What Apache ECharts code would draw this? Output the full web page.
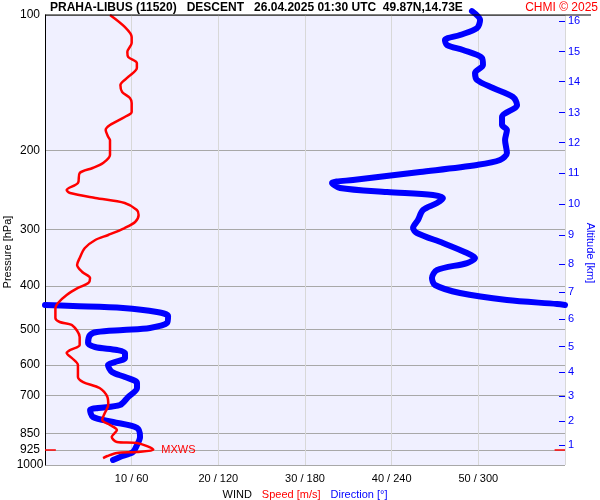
<!DOCTYPE html>
<html><head><meta charset="utf-8">
<script src="https://cdn.jsdelivr.net/npm/echarts@6/dist/echarts.min.js"></script>
<style>html,body{margin:0;padding:0;background:#fff}#c{width:600px;height:500px}</style>
</head><body><div id="c"></div>
<script>
// ---- data ----
const titleText = 'PRAHA-LIBUS (11520)   DESCENT   26.04.2025 01:30 UTC  49.87N,14.73E';
const creditText = 'CHMI \u00A9 2025';
const pressureLevels = [100, 200, 300, 400, 500, 600, 700, 850, 925, 1000];
const speedTicks = [10, 20, 30, 40, 50];
const altitudes = [1, 2, 3, 4, 5, 6, 7, 8, 9, 10, 11, 12, 13, 14, 15, 16];
const altPressures = [904.2, 799.8, 702.5, 621.4, 545.8, 474.7, 413.4, 358.1, 308.7, 263.0, 224.8, 192.2, 164.9, 140.7, 120.6, 103.0];

// wind speed [m/s] vs pressure [hPa]
const speedP = [100, 106.3, 111.9, 115.4, 120.8, 124.0, 127.9, 131.2, 137.3, 143.1, 148.3, 152.9, 156.9, 164.3, 168.5, 175.6, 180.1, 186.7, 189.6, 204.7, 213.3, 218.8, 224.5, 236.2, 244.9, 248.7, 255.1, 261.7, 271.3, 278.3, 288.4, 297.4, 308.2, 316.2, 329.5, 346.7, 359.4, 372.5, 384.1, 394.1, 404.2, 419.0, 436.5, 447.8, 471.3, 481.1, 488.6, 519.4, 541.2, 555.2, 563.8, 578.4, 599.5, 637.5, 654.1, 674.5, 706.3, 735.6, 766.3, 794.3, 814.9, 836.0, 866.5, 889.0, 893.5, 925, 935.6, 940.4, 955.0, 964.9];
const speedV = [7.5, 9.2, 10.0, 10.0, 9.5, 9.6, 10.6, 10.6, 9.6, 8.7, 8.9, 9.8, 10.0, 10.0, 9.2, 7.5, 7.0, 7.3, 7.5, 7.5, 6.7, 5.5, 4.0, 3.8, 2.5, 2.9, 5.8, 9.2, 10.6, 10.8, 10.4, 9.2, 7.3, 5.8, 4.6, 4.0, 3.7, 4.3, 5.2, 5.0, 3.8, 2.5, 1.5, 1.2, 1.2, 1.7, 3.1, 4.0, 4.0, 2.9, 2.5, 3.1, 3.8, 3.8, 4.4, 6.3, 7.2, 7.3, 6.9, 6.6, 7.5, 8.3, 7.7, 8.3, 10.6, 12.5, 10.6, 8.3, 7.2, 6.7];

// wind direction [deg] vs pressure [hPa]; null = wrap 360 -> 0
const dirP = [98.0, 102.6, 106.9, 110.8, 113.7, 116.6, 119.6, 124.6, 129.2, 134.6, 139.5, 145.3, 152.1, 158.5, 168.5, 175.6, 180.1, 189.6, 202.6, 210.0, 215.4, 223.3, 232.6, 236.2, 242.4, 247.4, 251.2, 255.1, 261.7, 271.3, 285.5, 297.4, 305.1, 321.1, 338.0, 346.7, 355.8, 368.7, 384.1, 398.1, 414.8, 429.9, 438.8, 441.0, 441.0, 441.0, 443.3, 447.8, 457.1, 466.6, 483.5, 496.1, 501.2, 506.4, 514.2, 535.7, 546.7, 555.2, 563.8, 578.4, 590.4, 599.5, 621.4, 637.5, 657.4, 674.5, 706.3, 735.6, 747.0, 754.7, 782.2, 802.5, 827.5, 866.5, 902.7, 935.6, 959.9, 974.7];
const dirV = [295.6, 301.2, 299.1, 287.3, 276.9, 278.3, 289.4, 302.5, 303.2, 297.7, 299.1, 310.2, 324.0, 326.8, 316.4, 316.4, 319.8, 318.5, 319.8, 315.0, 299.1, 259.6, 213.2, 198.7, 204.2, 236.8, 268.6, 275.5, 271.4, 261.7, 258.2, 254.8, 257.5, 275.5, 292.2, 297.7, 292.2, 271.4, 267.9, 270.0, 287.3, 319.8, 354.5, 360, null, 0, 19.4, 54.0, 77.5, 85.2, 84.5, 72.7, 54.0, 36.0, 31.2, 29.8, 34.6, 49.8, 55.4, 55.4, 48.5, 43.6, 46.4, 55.4, 63.7, 63.7, 57.5, 51.9, 36.7, 31.2, 33.2, 47.1, 63.7, 65.8, 63.7, 60.9, 51.9, 47.1];

// ---- build ----
const F = '"Liberation Sans", Arial, sans-serif';
const speedData = speedP.map((p, i) => [speedV[i], p]);
const dirData = dirP.map((p, i) => dirV[i] == null ? ['-', '-'] : [dirV[i], p]);
let mi = 0;
speedV.forEach((v, i) => { if (v > speedV[mi]) mi = i; });
const mxwsSpeed = speedV[mi], mxwsP = speedP[mi];

function nearest(arr, v) {
  let best = 0, bd = Infinity;
  arr.forEach((p, i) => { const d = Math.abs(p - v); if (d < bd) { bd = d; best = i; } });
  return best;
}

const chart = echarts.init(document.getElementById('c'), null, {renderer: 'canvas'});
chart.setOption({
  animation: false,
  textStyle: {fontFamily: F},
  grid: {left: 45, right: 35, top: 15, bottom: 35, show: true, backgroundColor: '#f0f0ff', borderWidth: 0,
         containLabel: false, outerBoundsMode: 'none'},
  xAxis: [
    {
      type: 'value', min: 0, max: 60, interval: 10,
      axisLine: {show: false}, axisTick: {show: false},
      splitLine: {show: true, lineStyle: {color: '#d8d8d8', width: 1}},
      axisLabel: {fontSize: 11, color: '#000', margin: 8, fontFamily: F,
        formatter: v => speedTicks.indexOf(v) >= 0 ? v + ' / ' + v * 6 : ''},
      name: '{a|WIND}   {b|Speed [m/s]}   {c|Direction [\u00B0]}',
      nameLocation: 'middle', nameGap: 18,
      nameTextStyle: {rich: {
        a: {color: '#000', fontSize: 11, fontFamily: F},
        b: {color: '#ff0000', fontSize: 11, fontFamily: F},
        c: {color: '#0000ff', fontSize: 11, fontFamily: F}}}
    },
    {type: 'value', min: 0, max: 360, show: false}
  ],
  yAxis: [
    {
      type: 'log', logBase: 10, min: 100, max: 1000, inverse: true,
      axisLine: {show: true, onZero: false, lineStyle: {color: '#000', width: 1}},
      axisTick: {show: false, customValues: pressureLevels},
      axisLabel: {customValues: pressureLevels, fontSize: 12, color: '#000', align: 'center', margin: 15, fontFamily: F,
        formatter: v => String(pressureLevels[nearest(pressureLevels, v)])},
      splitLine: {show: true, lineStyle: {color: '#a8a8a8', width: 1}}
    },
    {
      type: 'log', logBase: 10, min: 100, max: 1000, inverse: true, position: 'right',
      axisLine: {show: false, onZero: false},
      axisTick: {show: true, inside: true, length: 6, customValues: altPressures, lineStyle: {color: '#0000ff', width: 1}},
      axisLabel: {customValues: altPressures, color: '#0000ff', fontSize: 11, margin: 3, fontFamily: F,
        formatter: v => String(altitudes[nearest(altPressures, v)])},
      splitLine: {show: false}
    }
  ],
  graphic: [
    {type: 'line', z: 100, shape: {x1: 45, y1: 15, x2: 591, y2: 15}, style: {stroke: '#000', lineWidth: 1}},
    {type: 'text', z: 100, x: 50, y: 8, style: {text: titleText, fill: '#000', fontSize: 12, fontWeight: 'bold', fontFamily: F, align: 'left', verticalAlign: 'middle'}},
    {type: 'text', z: 100, x: 598, y: 8, style: {text: creditText, fill: '#ff0000', fontSize: 12, fontFamily: F, align: 'right', verticalAlign: 'middle'}},
    {type: 'text', z: 100, x: 8, y: 252, rotation: Math.PI / 2, style: {text: 'Pressure [hPa]', fill: '#000', fontSize: 11, fontFamily: F, align: 'center', verticalAlign: 'middle'}},
    {type: 'text', z: 100, x: 590, y: 253, rotation: -Math.PI / 2, style: {text: 'Altitude [km]', fill: '#0000ff', fontSize: 11, fontFamily: F, align: 'center', verticalAlign: 'middle'}}
  ],
  series: [
    {
      name: 'Direction', type: 'line', xAxisIndex: 1, yAxisIndex: 0, data: dirData,
      symbol: 'none', smooth: 0.3, clip: false, z: 2,
      lineStyle: {color: '#0000ff', width: 6, cap: 'round', join: 'round'}
    },
    {
      name: 'Speed', type: 'line', xAxisIndex: 0, yAxisIndex: 0, data: speedData,
      symbol: 'none', smooth: 0.3, clip: false, z: 3,
      lineStyle: {color: '#ff0000', width: 2.5},
      markLine: {
        silent: true, symbol: ['none', 'none'], animation: false,
        lineStyle: {color: '#ff0000', width: 1.5, type: 'solid'}, label: {show: false},
        data: [
          [{coord: [0, mxwsP]}, {coord: [1.25, mxwsP]}],
          [{coord: [58.8, mxwsP]}, {coord: [60, mxwsP]}]
        ]
      },
      markPoint: {
        silent: true, symbol: 'circle', symbolSize: 0, animation: false,
        label: {show: true, position: 'right', distance: 8, formatter: 'MXWS', color: '#ff0000', fontSize: 11, fontFamily: F},
        data: [{coord: [mxwsSpeed, mxwsP]}]
      }
    }
  ]
});
</script>
</body></html>
